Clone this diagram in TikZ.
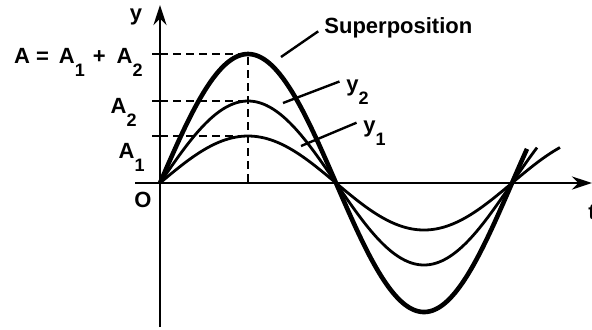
\documentclass[tikz,border=0pt]{standalone}
\usepackage{fontspec}
\setmainfont{Liberation Sans}
\usetikzlibrary{arrows.meta,positioning}
\tikzset{
  axis/.style     = {line width=1.4pt},
  axisarrow/.style= {axis, -{Stealth[length=10pt,width=6.5pt]}},
  wave/.style     = {line width=1.4pt, smooth, samples=160},
  sumwave/.style  = {line width=2.3pt, smooth, samples=160},
  guide/.style    = {line width=1.1pt, dash pattern=on 4pt off 2.5pt},
  tickmark/.style = {line width=1.2pt},
  leader/.style   = {line width=1.2pt, shorten >=3.5pt},
  lbl/.style      = {font=\fontsize{11}{13}\selectfont\bfseries, inner sep=0pt},
}
\newcommand{\subnum}[1]{\raisebox{-6.5pt}{\fontsize{9}{10}\selectfont #1}}

\begin{document}
\begin{tikzpicture}[x=0.5pt,y=0.5pt]
  \useasboundingbox (-160,-146) rectangle (432,183);
  % axes
  \draw[axisarrow] (-25,0) -- (432,0);
  \draw[axisarrow] (0,-144) -- (0,178);
  \node[lbl] (ylbl) at (-24,166) {y};
  \node[lbl] (tlbl) at (432,-29) {t};
  \node[lbl] (orig) at (-17,-17) {O};
  % amplitude guides
  \foreach \a in {47,82,129} \draw[tickmark] (-8,\a) -- (0,\a);
  \draw[guide] (0,129) -- (88,129) -- (88,0);
  \draw[guide] (0,82) -- (88,82);
  \draw[guide] (0,47) -- (88,47);
  \node[lbl, anchor=base east] (asum) at (-17,120)
    {A\hspace{3pt}=\hspace{5pt}A\subnum{1}\hspace{4pt}+\hspace{5.5pt}A\subnum{2}};
  \node[lbl, anchor=base east] (atwo) at (-23,70) {A\subnum{2}};
  \node[lbl, anchor=base east] (aone) at (-15,25) {A\subnum{1}};
  % waves y1, y2 and their sum
  \draw[wave] plot[domain=0:400] (\x,{47*sin(\x/176*180)});
  \draw[wave] plot[domain=0:377] (\x,{82*sin(\x/176*180)});
  \draw[sumwave] plot[domain=0:367] (\x,{129*sin(\x/176*180)});
  % labels with leaders
  \node[lbl, anchor=base west] (suplbl) at (164,150) {Superposition};
  \node[lbl, anchor=base west] (ytwolbl) at (186,92) {y\subnum{2}};
  \node[lbl, anchor=base west] (yonelbl) at (203,51) {y\subnum{1}};
  \coordinate (suptip) at (121,126);
  \coordinate (ytwotip) at (123,80);
  \coordinate (yonetip) at (141,37);
  \draw[leader] (suptip) -- (suplbl.west);
  \draw[leader] (ytwotip) -- (ytwolbl.north west);
  \draw[leader] (yonetip) -- (yonelbl.north west);
\end{tikzpicture}
\end{document}
